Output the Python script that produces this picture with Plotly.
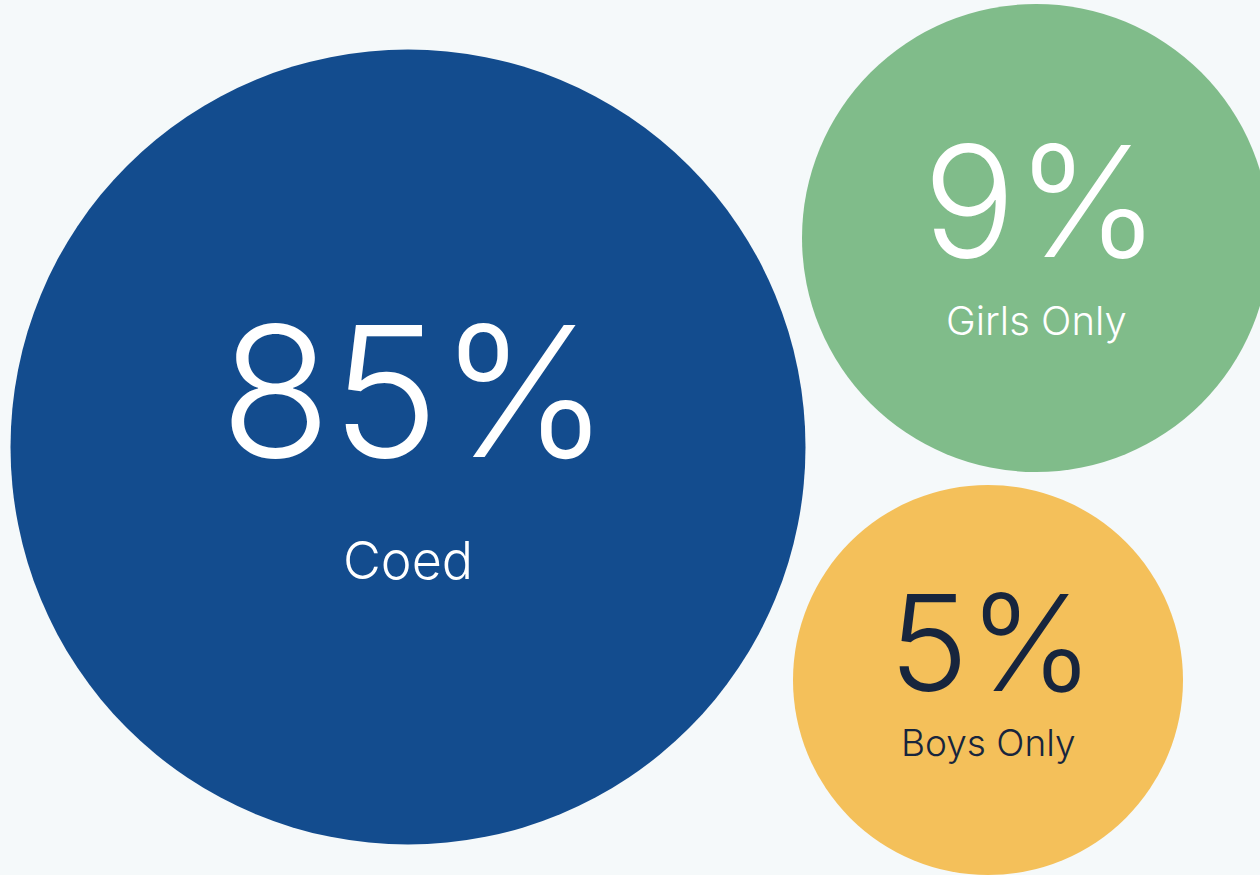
import plotly.graph_objects as go

# Data
categories = ["Coed", "Girls Only", "Boys Only"]
shares = [85, 9, 5]
value_labels = ["85%", "9%", "5%"]

# Layout / style (pixel space)
cx = [408, 1036, 988]
cy = [447, 238, 680]
diam = [795, 468, 390]
fills = ["#134C8E", "#80BC8A", "#F4C05A"]
text_colors = ["#FFFFFF", "#FFFFFF", "#17253D"]
big_sizes = [182, 154, 134]
small_sizes = [52, 40, 37]
big_dy = [-56, -38, -39]
big_dx = [7, 5, 3]
small_dy = [113, 82, 62]

FONT = "Inter"
BG = "#F5F9FA"

fig = go.Figure()
fig.add_trace(go.Scatter(
    x=cx, y=cy, mode="markers",
    marker=dict(size=diam, sizemode="diameter", color=fills, opacity=1,
                line=dict(width=0)),
    customdata=shares, text=categories,
    hovertemplate="%{text}: %{customdata}%<extra></extra>",
    cliponaxis=False, showlegend=False,
))

for i, cat in enumerate(categories):
    fig.add_annotation(x=cx[i], y=cy[i] + big_dy[i], text=value_labels[i],
                       showarrow=False, xanchor="center", yanchor="middle",
                       xshift=big_dx[i],
                       height=round(big_sizes[i] * 0.8), valign="middle",
                       font=dict(family=FONT, size=big_sizes[i], color=text_colors[i], weight=300))
    fig.add_annotation(x=cx[i], y=cy[i] + small_dy[i], text=cat,
                       showarrow=False, xanchor="center", yanchor="middle",
                       font=dict(family=FONT, size=small_sizes[i], color=text_colors[i], weight=300))

fig.update_layout(
    width=1260, height=875,
    margin=dict(l=0, r=0, t=0, b=0),
    paper_bgcolor=BG, plot_bgcolor=BG,
    xaxis=dict(range=[0, 1260], visible=False, fixedrange=True),
    yaxis=dict(range=[875, 0], visible=False, fixedrange=True),
)

fig.write_html("out.html", config={"displayModeBar": False},
               post_script="document.body.style.margin='0';")
